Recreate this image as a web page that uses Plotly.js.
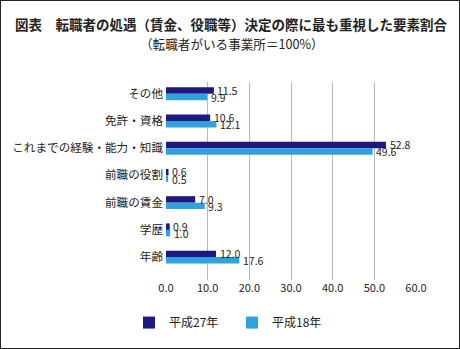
<!DOCTYPE html>
<html>
<head>
<meta charset="utf-8">
<script src="https://cdn.plot.ly/plotly-3.0.1.min.js"></script>
<style>
  html, body { margin: 0; padding: 0; background: #fff; }
  #wrap { position: relative; width: 460px; height: 349px; }
  #chart { width: 460px; height: 349px; }
  #frame { position: absolute; left: 0; top: 0; width: 460px; height: 349px; box-sizing: border-box; border: 1.5px solid #222; pointer-events: none; }
</style>
</head>
<body>
<div id="wrap"><div id="chart"></div><div id="frame"></div></div>
<script>
const categories = ["その他", "免許・資格", "これまでの経験・能力・知識", "前職の役割", "前職の賃金", "学歴", "年齢"];
const seriesNames = ["平成27年", "平成18年"];
const valuesH27 = [11.5, 10.6, 52.8, 0.6, 7.0, 0.9, 12.0];
const valuesH18 = [9.9, 12.1, 49.6, 0.5, 9.3, 1.0, 17.6];
const xTickVals = [0, 10, 20, 30, 40, 50, 60];
const xTickText = ["0.0", "10.0", "20.0", "30.0", "40.0", "50.0", "60.0"];
const titleText = "図表　転職者の処遇（賃金、役職等）決定の際に最も重視した要素割合";
const subtitleText = "（転職者がいる事業所＝100%）";

const FONT = "'Noto Sans CJK JP', 'Noto Sans', sans-serif";
const colors = ["#1c1a7e", "#2fa2de"];

function barTrace(name, values, color) {
  return {
    type: "bar",
    orientation: "h",
    name: name,
    y: categories,
    x: values,
    marker: { color: color, line: { width: 0 } },
    hoverinfo: "none"
  };
}

const data = [
  barTrace(seriesNames[0], valuesH27, colors[0]),
  barTrace(seriesNames[1], valuesH18, colors[1])
];

// value labels placed through the data scales (value, category) with small pixel offsets
const valueLabels = [];
[valuesH27, valuesH18].forEach((vals, si) => {
  vals.forEach((v, i) => {
    valueLabels.push({
      text: v.toFixed(1),
      xref: "x", yref: "y",
      x: v, y: categories[i],
      xanchor: "left", yanchor: "middle",
      xshift: 2.5,
      yshift: si === 0 ? 3.6 : -3.8,
      borderpad: 0,
      showarrow: false,
      font: { family: FONT, size: 10.5, color: "#222" }
    });
  });
});

const layout = {
  width: 460,
  height: 349,
  margin: { l: 166, r: 44, t: 82, b: 62 },
  paper_bgcolor: "#fff",
  plot_bgcolor: "#fff",
  font: { family: FONT, size: 12, color: "#222" },
  barmode: "group",
  bargap: 0.525,
  bargroupgap: 0,
  showlegend: true,
  legend: {
    orientation: "h",
    x: -0.148, xanchor: "left",
    y: -0.215, yanchor: "middle",
    font: { family: FONT, size: 12, color: "#222" },
    entrywidth: 58,
    entrywidthmode: "pixels",
    itemwidth: 30,
    traceorder: "normal"
  },
  xaxis: {
    range: [0, 60],
    tickvals: xTickVals,
    ticktext: xTickText,
    showgrid: true,
    gridcolor: "#b8b8b8",
    gridwidth: 1,
    zeroline: false,
    showline: false,
    ticks: "",
    tickfont: { family: FONT, size: 11, color: "#222" },
    fixedrange: true
  },
  yaxis: {
    type: "category",
    range: [6.84, -0.43],
    showgrid: false,
    zeroline: false,
    showline: false,
    ticks: "",
    ticklabelstandoff: 2,
    tickfont: { family: FONT, size: 11.6, color: "#222" },
    fixedrange: true
  },
  annotations: [
    {
      text: "<b>" + titleText + "</b>",
      xref: "paper", yref: "paper",
      x: (231 - 166) / 250, y: (287 - 22) / 205,
      xanchor: "center", yanchor: "middle",
      showarrow: false,
      font: { family: FONT, size: 13.5, color: "#222" }
    },
    {
      text: subtitleText,
      xref: "paper", yref: "paper",
      x: (232 - 166) / 250, y: (287 - 42) / 205,
      xanchor: "center", yanchor: "middle",
      showarrow: false,
      font: { family: FONT, size: 12.6, color: "#222" }
    }
  ].concat(valueLabels)
};

Plotly.newPlot("chart", data, layout, { staticPlot: true, displayModeBar: false });
</script>
</body>
</html>
